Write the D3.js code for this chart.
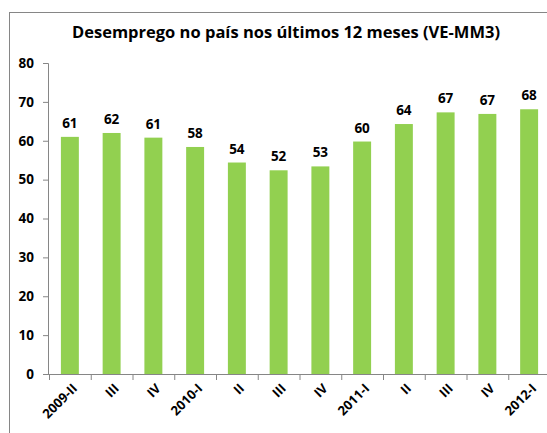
<!DOCTYPE html>
<html>
<head>
<meta charset="utf-8">
<script src="https://cdn.jsdelivr.net/npm/d3@7"></script>
<style>
  body { margin: 0; background: #fff; }
  text { font-family: "Open Sans", "Liberation Sans", sans-serif; font-weight: bold; }
</style>
</head>
<body>
<svg id="chart" width="547" height="433"></svg>
<script>
const title = "Desemprego no país nos últimos 12 meses (VE-MM3)";
const periods = ["2009-II", "III", "IV", "2010-I", "II", "III", "IV", "2011-I", "II", "III", "IV", "2012-I"];
const values = [61.0, 62.0, 60.8, 58.4, 54.4, 52.4, 53.4, 59.8, 64.3, 67.3, 66.9, 68.1];
const labels = ["61", "62", "61", "58", "54", "52", "53", "60", "64", "67", "67", "68"];
const yTicks = [0, 10, 20, 30, 40, 50, 60, 70, 80];

const svg = d3.select("#chart");
const axisColor = "#868686";

// outer chart border (runs off the window on right/bottom like the original)
svg.append("rect")
  .attr("x", 9.5).attr("y", 12.5)
  .attr("width", 560).attr("height", 440)
  .attr("fill", "none").attr("stroke", axisColor);

svg.append("text")
  .attr("x", 286).attr("y", 38)
  .attr("text-anchor", "middle")
  .style("font-size", "16.5px")
  .text(title);

const margin = { left: 48, top: 63 };
// periods repeat (III, IV...), so the band scale works on indexes
const idx = d3.range(periods.length);
const x = d3.scaleBand().domain(idx).range([49, 550]).paddingInner(0.57).paddingOuter(0.285);
const y = d3.scaleLinear().domain([0, 80]).range([374, 63]);

const yAxis = svg.append("g")
  .attr("transform", "translate(" + margin.left + ",0)")
  .call(d3.axisLeft(y).tickValues(yTicks).tickSize(5).tickPadding(9));
yAxis.selectAll("path, line").attr("stroke", axisColor);
yAxis.selectAll("text").style("font-size", "13.5px").attr("fill", "#000");

svg.append("g")
  .selectAll("rect")
  .data(values)
  .enter()
  .append("rect")
  .attr("x", (d, i) => x(i))
  .attr("y", (d) => y(d))
  .attr("width", x.bandwidth())
  .attr("height", (d) => y(0) - y(d))
  .attr("fill", "#92D050");

svg.append("g")
  .selectAll("text")
  .data(values)
  .enter()
  .append("text")
  .attr("x", (d, i) => x(i) + x.bandwidth() / 2)
  .attr("y", (d) => y(d) - 9)
  .attr("text-anchor", "middle")
  .style("font-size", "13.5px")
  .text((d, i) => labels[i]);

// x axis with ticks between categories
const step = x.step();
const xb = svg.append("g");
xb.append("line")
  .attr("x1", 48).attr("x2", 560)
  .attr("y1", y(0) + 0.5).attr("y2", y(0) + 0.5)
  .attr("stroke", axisColor);
xb.selectAll("line.tick")
  .data(d3.range(periods.length + 1))
  .enter()
  .append("line")
  .attr("class", "tick")
  .attr("x1", (d) => 49 + d * step + 0.5)
  .attr("x2", (d) => 49 + d * step + 0.5)
  .attr("y1", y(0)).attr("y2", y(0) + 6)
  .attr("stroke", axisColor);
xb.selectAll("text")
  .data(periods)
  .enter()
  .append("text")
  .attr("transform", (d, i) => "translate(" + (x(i) + x.bandwidth() / 2 + 5) + "," + (y(0) + 12) + ") rotate(-45)")
  .attr("text-anchor", "end")
  .attr("dy", "0.35em")
  .style("font-size", "13px")
  .text((d) => d);
</script>
</body>
</html>
